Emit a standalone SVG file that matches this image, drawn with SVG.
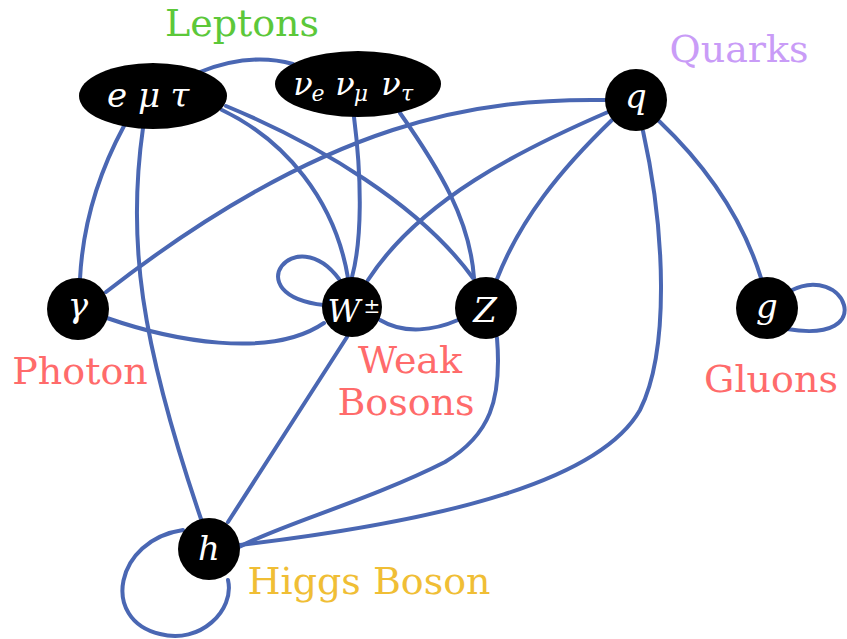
<svg xmlns="http://www.w3.org/2000/svg" width="847" height="639" viewBox="0 0 847 639">
<style>
.e{fill:none;stroke:#4a67b3;stroke-width:4;stroke-linecap:round}
.n{fill:#000}
.t{fill:#fff;font-family:'DejaVu Serif',serif;font-style:italic;text-anchor:middle}
.l{font-family:'DejaVu Serif',serif;font-size:38px;text-anchor:middle}
</style>
<rect width="847" height="639" fill="#fff"/>
<g id="connectors">
<path class="e" d="M124,126 Q84,200 80,279"/>
<path class="e" d="M143,128 C127,240 140,340 201,519"/>
<path class="e" d="M200,72 Q250,52 293,64"/>
<path class="e" d="M222,110 C285,140 335,200 348,278"/>
<path class="e" d="M226,106 C320,145 420,205 473,278"/>
<path class="e" d="M354,117 C362,180 362,240 352,277"/>
<path class="e" d="M400,113 C440,170 470,220 474,278"/>
<path class="e" d="M606,100 C480,98 330,118 106,292"/>
<path class="e" d="M608,112 C520,150 420,200 368,280"/>
<path class="e" d="M612,120 C560,170 520,220 497,279"/>
<path class="e" d="M659,121 C700,160 740,210 761,278"/>
<path class="e" d="M643,131 C665,230 670,350 640,410 C600,480 450,520 240,545"/>
<path class="e" d="M107,318 C170,340 270,360 324,323"/>
<path class="e" d="M339,279 C295,220 235,295 324,305"/>
<path class="e" d="M380,320 C405,335 435,330 458,320"/>
<path class="e" d="M347,337 L228,522"/>
<path class="e" d="M497,338 C502,400 490,435 445,462 C370,500 280,525 239,547"/>
<path class="e" d="M790,291 C845,262 880,345 787,329"/>
<path class="e" d="M183,530 C115,540 100,620 160,634 C200,645 235,610 228,580"/>
</g>
<g id="leptons">
<ellipse class="n" cx="153" cy="96" rx="74" ry="33"/>
<text class="t" y="107" font-size="34"><tspan x="117">e</tspan><tspan x="149">μ</tspan><tspan x="180">τ</tspan></text>
</g>
<g id="neutrinos">
<ellipse class="n" cx="358" cy="84" rx="83" ry="33"/>
<text class="t" y="95" font-size="32"><tspan x="303">ν</tspan><tspan x="318" y="101" font-size="22">e</tspan><tspan x="345" y="95">ν</tspan><tspan x="361" y="101" font-size="22">μ</tspan><tspan x="391" y="95">ν</tspan><tspan x="407" y="101" font-size="22">τ</tspan></text>
</g>
<g id="quark">
<circle class="n" cx="636" cy="100" r="31"/>
<text class="t" x="636" y="108" font-size="34">q</text>
</g>
<g id="photon">
<circle class="n" cx="78" cy="309" r="31"/>
<text class="t" x="78" y="317" font-size="34">γ</text>
</g>
<g id="w">
<circle class="n" cx="352" cy="307" r="30"/>
<text class="t" x="344" y="322" font-size="32">W</text>
<text class="t" x="372" y="313" font-size="20" font-style="normal">±</text>
</g>
<g id="z">
<circle class="n" cx="486" cy="308" r="31"/>
<text class="t" x="485" y="322" font-size="34">Z</text>
</g>
<g id="gluon">
<circle class="n" cx="767" cy="308" r="31"/>
<text class="t" x="767" y="318" font-size="34">g</text>
</g>
<g id="higgs">
<circle class="n" cx="209" cy="549" r="31"/>
<text class="t" x="209" y="560" font-size="34">h</text>
</g>
<g id="labels">
<text class="l" x="242" y="36" fill="#5cc83a">Leptons</text>
<text class="l" x="739" y="62" fill="#c99cf7">Quarks</text>
<text class="l" x="80" y="384" fill="#ff6b6b">Photon</text>
<text class="l" x="410" y="373" fill="#ff6b6b">Weak</text>
<text class="l" x="406" y="415" fill="#ff6b6b">Bosons</text>
<text class="l" x="771" y="392" fill="#ff6b6b">Gluons</text>
<text class="l" x="369" y="594" fill="#f0be35">Higgs Boson</text>
</g>
</svg>
